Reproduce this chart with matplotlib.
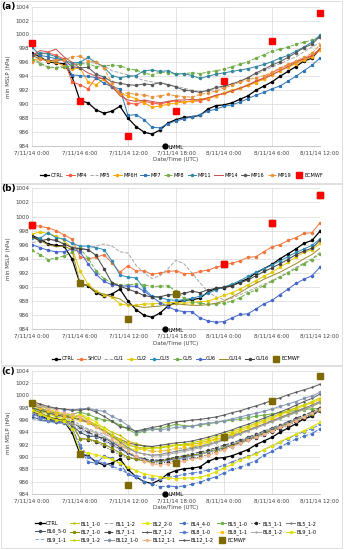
import matplotlib.pyplot as plt
import numpy as np
from matplotlib.patches import Rectangle

# hourly values, 7/11/14 0:00 .. 8/11/14 12:00
hours = np.arange(37)
xticklabels = ['7/11/14 0:00', '7/11/14 6:00', '7/11/14 12:00', '7/11/14 18:00',
               '8/11/14 0:00', '8/11/14 6:00', '8/11/14 12:00']

ctrl = [997.3, 996.8, 996.1, 995.9, 995.8, 994.0, 990.5, 990.2, 989.2, 988.7, 989.0, 989.7,
        988.0, 986.8, 986.0, 985.7, 986.3, 987.3, 987.8, 988.1, 988.2, 988.4, 989.3, 989.8,
        989.9, 990.2, 990.7, 991.2, 992.0, 992.6, 993.2, 994.0, 994.7, 995.4, 996.2, 996.6, 997.9]

ecmwf_hours = [0, 6, 12, 18, 24, 30, 36]
ecmwf = [998.8, 990.5, 985.5, 989.0, 993.3, 999.1, 1003.1]
lmml_hour = 16.6

# panel (a) - microphysics
mp4 = [996.9, 997.2, 997.4, 997.0, 996.5, 993.2, 992.8, 992.2, 993.8, 993.6, 992.5, 991.8,
       990.2, 990.0, 990.4, 990.2, 990.0, 990.3, 990.5, 990.3, 990.4, 990.5, 990.8, 991.2,
       991.6, 991.9, 992.3, 992.8, 993.3, 993.8, 994.5, 995.1, 995.6, 996.1, 996.6, 997.0, 997.9]
mp5 = [996.5, 996.0, 995.2, 995.3, 995.5, 995.8, 995.9, 996.0, 995.9, 995.5, 994.8, 994.5,
       994.2, 993.8, 993.4, 993.2, 993.0, 992.8, 992.6, 992.3, 992.0, 991.8, 991.9, 992.2,
       992.5, 992.9, 993.3, 993.8, 994.3, 994.8, 995.3, 995.8, 996.3, 996.8, 997.5, 998.2, 998.8]
mp6h = [996.3, 996.6, 996.2, 996.0, 995.5, 995.0, 995.2, 993.2, 992.8, 993.6, 992.4, 991.5,
        991.2, 990.8, 990.2, 989.6, 989.7, 990.0, 990.2, 990.3, 990.5, 990.7, 990.9, 991.2,
        991.6, 992.0, 992.3, 992.7, 993.1, 993.6, 994.2, 994.8, 995.3, 995.8, 996.3, 996.8, 997.8]
mp7 = [998.2, 997.0, 996.8, 996.5, 996.4, 994.2, 994.1, 994.0, 993.8, 993.0, 992.5, 992.2,
       988.4, 988.5, 987.8, 986.7, 986.6, 987.2, 987.6, 987.9, 988.2, 988.5, 989.0, 989.3,
       989.7, 989.9, 990.3, 990.8, 991.3, 991.7, 992.2, 992.6, 993.3, 994.0, 994.8, 995.6, 996.6]
mp8 = [996.5, 995.8, 995.4, 995.2, 995.3, 995.5, 995.8, 995.8, 995.4, 995.5, 995.6, 995.5,
       995.1, 994.9, 994.5, 994.2, 994.6, 994.5, 994.3, 994.4, 994.5, 994.4, 994.6, 994.8,
       995.0, 995.4, 995.7, 996.1, 996.6, 997.1, 997.6, 997.9, 998.2, 998.6, 998.9, 999.2, 999.6]
mp11 = [997.0, 997.4, 997.2, 996.8, 996.3, 995.9, 996.0, 996.7, 996.0, 995.3, 994.1, 993.8,
        994.0, 994.1, 994.8, 994.9, 994.7, 994.8, 994.3, 994.4, 994.1, 993.7, 994.0, 994.3,
        994.5, 994.7, 994.9, 995.1, 995.4, 995.7, 996.1, 996.6, 997.0, 997.6, 998.2, 998.9, 999.9]
mp14 = [997.0, 997.7, 997.5, 997.9, 996.8, 996.0, 995.2, 994.5, 994.0, 993.6, 992.6, 991.2,
        990.6, 990.4, 990.6, 990.4, 990.2, 990.4, 990.6, 990.6, 990.7, 990.6, 990.9, 991.3,
        991.5, 991.9, 992.3, 992.7, 993.3, 993.7, 994.2, 994.8, 995.4, 996.0, 996.5, 996.9, 997.9]
mp16 = [997.0, 996.5, 996.3, 996.2, 996.4, 995.4, 995.2, 995.3, 994.3, 993.9, 993.2, 993.0,
        992.8, 992.7, 992.9, 992.8, 993.1, 992.8, 992.5, 992.0, 991.9, 991.7, 992.0, 992.4,
        992.6, 992.9, 993.3, 993.8, 994.5, 995.0, 995.6, 996.1, 996.7, 997.4, 998.1, 998.6, 999.7]
mp19 = [996.0, 996.5, 996.2, 996.4, 996.3, 996.8, 996.9, 996.2, 996.1, 995.2, 993.0, 991.5,
        991.6, 991.4, 991.3, 991.1, 991.2, 991.4, 991.2, 991.1, 991.0, 991.4, 991.6, 991.9,
        992.3, 992.7, 993.2, 993.5, 993.8, 994.1, 994.6, 995.2, 995.7, 996.2, 996.7, 997.3, 998.5]

# panel (b) - cumulus
shcu = [998.8, 998.6, 998.4, 998.0, 997.4, 996.8, 994.3, 994.0, 994.2, 994.6, 993.4, 992.1,
        993.0, 992.3, 992.3, 991.8, 992.0, 992.2, 992.3, 991.9, 991.9, 992.2, 992.4, 992.8,
        993.1, 993.4, 993.7, 994.2, 994.3, 995.0, 995.7, 996.0, 996.6, 997.0, 997.6, 997.7, 999.1]
cu1 = [996.3, 996.5, 996.8, 996.6, 996.2, 995.7, 995.5, 995.4, 995.8, 996.1, 995.8, 995.0,
       994.8, 993.1, 992.0, 991.2, 991.6, 992.6, 993.8, 993.3, 992.0, 990.6, 989.3, 988.6,
       988.2, 988.4, 988.9, 989.4, 989.9, 990.4, 990.9, 991.5, 992.1, 992.8, 993.4, 994.0, 994.9]
cu2 = [997.5, 997.8, 997.6, 997.2, 996.6, 995.5, 992.3, 990.4, 989.4, 988.9, 988.6, 987.6,
       987.4, 987.4, 987.6, 987.6, 987.7, 987.8, 987.8, 987.7, 987.8, 987.9, 988.0, 988.4,
       988.8, 989.2, 989.7, 990.3, 990.9, 991.5, 992.1, 992.8, 993.5, 994.3, 994.9, 995.3, 996.2]
cu3 = [997.0, 996.9, 997.7, 997.0, 996.8, 996.2, 995.8, 995.8, 995.6, 995.3, 993.7, 991.7,
       991.4, 991.3, 989.8, 988.7, 988.5, 988.2, 988.1, 988.2, 988.4, 988.7, 989.1, 989.6,
       990.0, 990.4, 990.9, 991.5, 992.1, 992.6, 993.1, 993.7, 994.3, 994.9, 995.4, 995.9, 996.8]
cu5 = [995.2, 994.6, 993.9, 994.1, 994.4, 994.9, 995.5, 994.1, 992.3, 991.2, 990.6, 990.3,
       990.3, 990.4, 990.3, 990.1, 990.1, 990.2, 989.4, 988.4, 987.9, 987.7, 987.6, 987.6,
       987.7, 988.0, 988.5, 989.1, 989.6, 990.2, 990.8, 991.4, 992.0, 992.6, 993.3, 993.9, 994.7]
cu6 = [996.0, 995.6, 995.2, 995.0, 995.0, 995.4, 995.0, 993.3, 991.8, 990.8, 990.3, 990.2,
       990.1, 990.1, 989.4, 988.6, 987.8, 987.2, 986.7, 986.5, 986.5, 985.6, 985.2, 985.0,
       985.1, 985.6, 986.1, 986.2, 986.9, 987.6, 988.1, 988.9, 989.7, 990.5, 991.1, 991.6, 992.8]
cu14 = [997.0, 996.6, 996.0, 995.7, 995.8, 995.3, 990.5, 990.2, 989.3, 989.0, 988.6, 988.3,
        987.5, 987.3, 987.1, 987.2, 987.3, 987.5, 987.6, 987.5, 987.4, 987.4, 987.5, 987.7,
        988.0, 988.6, 989.2, 989.9, 990.5, 991.1, 991.6, 992.1, 992.7, 993.3, 994.0, 994.6, 995.5]
cu16 = [997.2, 996.5, 996.8, 996.6, 996.1, 995.6, 995.4, 995.3, 994.5, 992.6, 990.6, 990.1,
        989.7, 989.3, 988.8, 988.6, 988.6, 988.9, 988.9, 989.1, 989.4, 989.2, 989.6, 989.8,
        990.0, 990.2, 990.6, 991.0, 991.6, 992.2, 992.7, 993.3, 993.9, 994.6, 995.1, 995.5, 996.6]
ecmwf_red_b = [0, 24, 30, 36]

# panel (c) - boundary layer
bl1_10 = [998.6, 998.0, 997.4, 997.0, 996.5, 996.3, 996.9, 996.0, 995.2, 994.8, 994.0, 993.5,
          992.6, 992.2, 991.8, 991.6, 991.5, 991.7, 991.9, 992.0, 992.1, 992.3, 992.6, 992.9,
          993.2, 993.6, 994.0, 994.4, 994.9, 995.3, 995.8, 996.3, 996.8, 997.2, 997.7, 998.2, 998.8]
bl1_12 = [997.8, 997.4, 997.0, 996.6, 996.4, 996.0, 995.2, 994.6, 994.1, 993.7, 993.2, 992.7,
          992.1, 991.6, 991.2, 990.9, 990.9, 991.1, 991.3, 991.4, 991.6, 991.9, 992.2, 992.6,
          993.0, 993.5, 993.9, 994.4, 994.9, 995.4, 995.9, 996.4, 996.9, 997.4, 997.9, 998.4, 999.0]
bl2_20 = [998.2, 997.6, 997.0, 996.5, 996.2, 995.8, 997.0, 996.4, 995.7, 994.6, 993.4, 992.2,
          991.4, 991.2, 991.3, 991.5, 991.6, 991.8, 992.0, 991.9, 991.8, 992.0, 992.4, 992.8,
          993.3, 993.8, 994.3, 994.7, 995.2, 995.7, 996.2, 996.8, 997.3, 997.8, 998.3, 998.8, 999.3]
bl4_40 = [997.0, 996.6, 996.0, 995.6, 995.8, 995.0, 991.5, 989.2, 989.0, 990.1, 989.8, 988.9,
          987.2, 986.7, 986.0, 985.6, 985.2, 985.3, 985.2, 985.3, 985.6, 985.9, 986.4, 986.8,
          987.4, 988.0, 988.3, 988.9, 989.4, 990.3, 990.9, 991.6, 992.3, 992.9, 993.4, 993.8, 994.6]
bl5_10 = [997.5, 997.8, 997.2, 996.8, 996.6, 996.9, 997.3, 996.9, 996.4, 996.0, 995.8, 995.2,
          994.5, 993.8, 994.2, 994.5, 994.6, 995.0, 995.3, 995.1, 995.0, 995.2, 995.4, 995.6,
          995.8, 996.0, 996.2, 996.4, 996.6, 996.8, 997.0, 997.2, 997.4, 997.5, 997.7, 997.8, 997.9]
bl5_11 = [997.0, 996.5, 996.2, 995.8, 995.6, 995.4, 993.0, 992.8, 992.4, 991.8, 991.0, 990.4,
          989.9, 989.7, 989.4, 989.1, 989.0, 989.2, 989.4, 989.6, 989.8, 990.0, 990.4, 990.8,
          991.3, 991.7, 992.2, 992.7, 993.1, 993.6, 994.1, 994.6, 995.1, 995.7, 996.3, 996.8, 997.4]
bl5_12 = [998.4, 997.9, 997.5, 997.1, 996.8, 996.4, 996.2, 995.7, 995.0, 994.3, 993.4, 992.5,
          991.5, 990.8, 990.5, 990.3, 990.4, 990.7, 990.9, 991.2, 991.4, 991.7, 992.0, 992.4,
          992.8, 993.3, 993.8, 994.3, 994.8, 995.3, 995.9, 996.4, 996.9, 997.4, 997.9, 998.4, 999.0]
bl6_50 = [996.5, 996.1, 995.8, 995.6, 995.5, 995.2, 994.0, 993.4, 993.3, 993.1, 992.4, 991.6,
          990.6, 990.0, 989.6, 989.3, 989.4, 989.5, 989.7, 989.9, 990.2, 990.4, 990.8, 991.1,
          991.5, 991.9, 992.3, 992.8, 993.3, 993.8, 994.3, 994.8, 995.4, 996.0, 996.5, 997.0, 997.6]
bl7_10 = [997.8, 997.2, 996.6, 996.2, 996.0, 995.4, 993.0, 992.9, 992.6, 992.1, 991.4, 990.7,
          990.0, 989.6, 989.4, 989.2, 989.3, 989.6, 989.9, 990.1, 990.3, 990.5, 990.9, 991.2,
          991.6, 992.0, 992.5, 993.0, 993.5, 994.0, 994.5, 995.0, 995.5, 996.0, 996.5, 997.0, 997.7]
bl7_11 = [997.4, 996.9, 996.4, 996.1, 995.9, 995.6, 994.8, 994.0, 993.5, 992.8, 992.0, 991.3,
          990.6, 990.1, 989.7, 989.5, 989.5, 989.7, 990.0, 990.2, 990.5, 990.8, 991.1, 991.5,
          991.9, 992.3, 992.7, 993.2, 993.7, 994.2, 994.7, 995.2, 995.7, 996.3, 996.8, 997.3, 998.0]
bl7_12 = [998.0, 997.6, 997.2, 996.8, 996.6, 996.4, 996.0, 995.6, 994.9, 994.2, 993.5, 992.9,
          992.3, 992.0, 991.8, 991.7, 991.9, 992.1, 992.3, 992.4, 992.6, 992.9, 993.2, 993.6,
          994.0, 994.4, 994.9, 995.3, 995.8, 996.3, 996.8, 997.3, 997.8, 998.4, 999.0, 999.5, 1000.2]
bl8_10 = [996.8, 996.4, 996.0, 995.8, 995.6, 994.4, 992.0, 990.0, 989.4, 989.0, 988.5, 988.0,
          987.3, 987.0, 986.7, 986.5, 986.4, 986.7, 986.9, 987.2, 987.4, 987.6, 987.9, 988.2,
          988.7, 989.2, 989.7, 990.1, 990.6, 991.2, 991.8, 992.4, 993.0, 993.6, 994.1, 994.6, 995.3]
bl8_11 = [998.4, 998.0, 997.5, 997.0, 996.7, 996.5, 996.0, 995.5, 994.9, 994.3, 993.6, 992.9,
          992.2, 991.7, 991.3, 991.0, 991.0, 991.2, 991.5, 991.7, 992.0, 992.3, 992.7, 993.1,
          993.5, 993.9, 994.4, 994.9, 995.4, 995.9, 996.4, 996.9, 997.4, 997.9, 998.4, 998.9, 999.4]
bl8_12 = [997.2, 996.8, 996.4, 996.0, 995.8, 995.5, 995.0, 994.4, 993.9, 993.3, 992.6, 991.9,
          991.3, 990.8, 990.5, 990.2, 990.2, 990.4, 990.7, 990.9, 991.2, 991.5, 991.9, 992.3,
          992.7, 993.2, 993.7, 994.2, 994.7, 995.2, 995.7, 996.2, 996.7, 997.2, 997.7, 998.2, 998.8]
bl9_10 = [997.6, 997.0, 996.4, 996.0, 995.8, 994.6, 991.0, 990.6, 990.4, 990.0, 989.6, 989.0,
          988.4, 987.8, 987.3, 987.0, 986.8, 986.6, 986.5, 986.6, 986.6, 986.7, 987.1, 987.6,
          988.2, 988.8, 989.5, 990.0, 990.5, 991.2, 991.8, 992.5, 993.1, 993.7, 994.3, 994.9, 995.6]
bl9_11 = [996.2, 995.9, 995.7, 995.5, 995.4, 995.2, 994.5, 993.8, 993.2, 992.6, 991.9, 991.2,
          990.5, 990.0, 989.6, 989.3, 989.2, 989.4, 989.6, 989.8, 990.1, 990.4, 990.8, 991.2,
          991.6, 992.1, 992.6, 993.1, 993.6, 994.1, 994.6, 995.1, 995.6, 996.1, 996.6, 997.1, 997.7]
bl9_12 = [998.8, 998.3, 997.8, 997.3, 997.0, 996.8, 996.4, 995.8, 995.1, 994.3, 993.6, 992.7,
          991.9, 991.6, 991.5, 991.4, 991.5, 991.7, 991.9, 992.1, 992.3, 992.6, 992.9, 993.3,
          993.7, 994.1, 994.6, 995.0, 995.5, 996.0, 996.5, 997.0, 997.5, 998.0, 998.5, 999.0, 999.6]
bl12_10 = [998.6, 998.3, 998.0, 997.9, 997.7, 997.6, 997.8, 997.9, 997.6, 997.4, 996.6, 996.0,
           995.1, 994.0, 994.4, 994.6, 994.4, 994.6, 994.8, 994.9, 995.0, 995.3, 995.5, 995.6,
           995.9, 996.2, 996.5, 996.8, 997.1, 997.4, 997.8, 998.2, 998.6, 999.0, 999.5, 999.9, 1000.5]
bl12_11 = [999.0, 998.5, 998.0, 997.6, 997.2, 996.9, 996.5, 995.8, 994.9, 994.0, 993.0, 992.0,
           991.0, 990.2, 989.4, 988.9, 988.7, 988.9, 989.1, 989.3, 989.6, 989.9, 990.3, 990.7,
           991.2, 991.7, 992.2, 992.7, 993.2, 993.7, 994.2, 994.8, 995.3, 995.9, 996.5, 997.1, 997.8]
bl12_12 = [999.0, 998.6, 998.2, 997.9, 997.8, 997.6, 997.6, 997.8, 997.3, 996.6, 995.8, 994.9,
           994.7, 994.2, 994.5, 994.8, 995.0, 995.4, 995.7, 995.8, 996.0, 996.1, 996.3, 996.5,
           996.8, 997.2, 997.5, 997.9, 998.3, 998.7, 999.2, 999.6, 1000.1, 1000.5, 1000.9, 1001.3, 1001.8]

fig = plt.figure(figsize=(3.44, 5.50), dpi=100)

# light frames around each panel
for y0, h in [(0.667, 0.331), (0.336, 0.329), (0.004, 0.330)]:
    fig.patches.append(Rectangle((0.003, y0), 0.992, h, transform=fig.transFigure,
                                 fill=False, edgecolor='#D9D9D9', lw=0.6))


def setup(ax, tag, tag_y):
    ax.set_xlim(0, 36)
    ax.set_ylim(984, 1004)
    ax.set_xticks(range(0, 37, 6))
    ax.set_xticklabels(xticklabels, fontsize=4, color='#404040')
    ax.set_yticks(range(984, 1005, 2))
    ax.tick_params(axis='y', labelsize=4, length=0, pad=2, labelcolor='#404040')
    ax.tick_params(axis='x', length=0, pad=3)
    ax.grid(color='#D9D9D9', lw=0.5)
    ax.set_axisbelow(True)
    for s in ['top', 'right', 'left']:
        ax.spines[s].set_visible(False)
    ax.spines['bottom'].set_color('#BFBFBF')
    ax.spines['bottom'].set_linewidth(0.6)
    ax.set_ylabel('min MSLP (hPa)', fontsize=4, color='#404040', labelpad=3)
    ax.set_xlabel('Date/Time (UTC)', fontsize=4, color='#404040', labelpad=1.5)
    fig.text(0.005, tag_y, tag, fontsize=6.5, fontweight='bold', va='top', ha='left')
    ax.plot([lmml_hour], [984], 'o', color='black', ms=3.5, clip_on=False, zorder=10)
    ax.text(lmml_hour + 0.5, 983.85, 'LMML', fontsize=4, va='center', ha='left', zorder=10)


def line(ax, y, label, color, ls='-', marker='o', lw=0.7, ms=1.5):
    ax.plot(hours, y, ls=ls, color=color, marker=marker, lw=lw, ms=ms, label=label)


leg_kw = dict(fontsize=3.6, frameon=False, handlelength=1.7, handletextpad=0.3,
              columnspacing=0.6, borderaxespad=0)

# ---------- (a)
ax1 = fig.add_axes([0.093, 0.7345, 0.837, 0.2535])
setup(ax1, '(a)', 0.997)
line(ax1, ctrl, 'CTRL', 'black', lw=0.9)
line(ax1, mp4, 'MP4', '#FF5A36')
line(ax1, mp5, 'MP5', '#A6A6A6', ls='--', marker='')
line(ax1, mp6h, 'MP6H', '#FFA500')
line(ax1, mp7, 'MP7', '#2E75B6', marker='s', ms=1.3)
line(ax1, mp8, 'MP8', '#70AD47', ls='--')
line(ax1, mp11, 'MP11', '#31859C')
line(ax1, mp14, 'MP14', '#C0504D', marker='')
line(ax1, mp16, 'MP16', '#595959')
line(ax1, mp19, 'MP19', '#E69138', ls='--')
ax1.plot(ecmwf_hours, ecmwf, 's', color='#FF0000', ms=3.8, label='ECMWF', clip_on=False, zorder=9)
ax1.legend(ncol=11, loc='center', bbox_to_anchor=(0.52, -0.21), **leg_kw)

# ---------- (b)
ax2 = fig.add_axes([0.093, 0.4013, 0.837, 0.2563])
setup(ax2, '(b)', 0.665)
line(ax2, ctrl, 'CTRL', 'black', lw=0.9)
line(ax2, shcu, 'SHCU', '#F4743B')
line(ax2, cu1, 'CU1', '#A6A6A6', ls='--', marker='')
line(ax2, cu2, 'CU2', '#E3C800')
line(ax2, cu3, 'CU3', '#2E8BB8')
line(ax2, cu5, 'CU5', '#70AD47', ls='--')
line(ax2, cu6, 'CU6', '#4466CC')
line(ax2, cu14, 'CU14', '#9C8A2B', marker='')
line(ax2, cu16, 'CU16', '#404040')
ax2.plot(ecmwf_hours, ecmwf, 's', color='#7F6A00', ms=3.8, label='ECMWF', clip_on=False, zorder=9)
red_vals = [ecmwf[ecmwf_hours.index(h)] for h in ecmwf_red_b]
ax2.plot(ecmwf_red_b, red_vals, 's', color='#FF0000', ms=3.8, clip_on=False, zorder=9)
ax2.legend(ncol=10, loc='center', bbox_to_anchor=(0.5, -0.21), **leg_kw)

# ---------- (c)
ax3 = fig.add_axes([0.093, 0.1018, 0.837, 0.2242])
setup(ax3, '(c)', 0.333)
line(ax3, ctrl, 'CTRL', 'black', lw=0.9)
line(ax3, bl1_10, 'BL1_1-0', '#BFBF00', marker='+')
line(ax3, bl1_12, 'BL1_1-2', '#A6A6A6', ls='--', marker='')
line(ax3, bl2_20, 'BL2_2-0', '#E6E600')
line(ax3, bl4_40, 'BL4_4-0', '#4472C4', ls='-.')
line(ax3, bl5_10, 'BL5_1-0', '#70AD47')
line(ax3, bl5_11, 'BL5_1-1', '#262626', ls=':')
line(ax3, bl5_12, 'BL5_1-2', '#7F7F7F', marker='+')
line(ax3, bl6_50, 'BL6_5-0', '#44546A')
line(ax3, bl7_10, 'BL7_1-0', '#8C8C00')
line(ax3, bl7_11, 'BL7_1-1', '#404040', ls='--')
line(ax3, bl7_12, 'BL7_1-2', '#595959', marker='+')
line(ax3, bl8_10, 'BL8_1-0', '#5B7FD5', ls='--')
line(ax3, bl8_11, 'BL8_1-1', '#FFC000', ls=':')
line(ax3, bl8_12, 'BL8_1-2', '#A6A6A6', marker='+')
line(ax3, bl9_10, 'BL9_1-0', '#E0E000')
line(ax3, bl9_11, 'BL9_1-1', '#8FAADC', ls='--', marker='')
line(ax3, bl9_12, 'BL9_1-2', '#C5D100', marker='+')
line(ax3, bl12_10, 'BL12_1-0', '#8497B0')
line(ax3, bl12_11, 'BL12_1-1', '#F4B183', ls='--')
line(ax3, bl12_12, 'BL12_1-2', '#595959', marker='+')
ax3.plot(ecmwf_hours, ecmwf, 's', color='#7F6A00', ms=3.8, label='ECMWF', clip_on=False, zorder=9)

# legend filled row by row, 8 columns
h, l = ax3.get_legend_handles_labels()
ncol = 8
nrow = int(np.ceil(len(h) / ncol))
order = []
for c in range(ncol):
    for r in range(nrow):
        i = r * ncol + c
        if i < len(h):
            order.append(i)
ax3.legend([h[i] for i in order], [l[i] for i in order], ncol=ncol, loc='center',
           bbox_to_anchor=(0.5, -0.31), labelspacing=0.5,
           **dict(leg_kw, handlelength=1.9, columnspacing=0.7))

fig.savefig('out.png', dpi=100)
